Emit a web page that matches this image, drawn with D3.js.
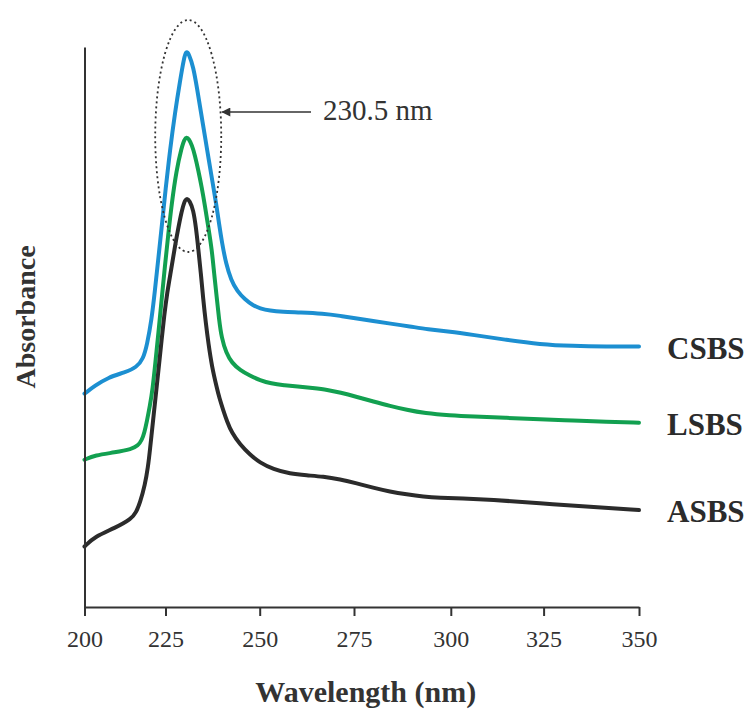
<!DOCTYPE html>
<html><head><meta charset="utf-8">
<script src="https://cdn.jsdelivr.net/npm/d3@7"></script>
<style>body{margin:0;background:#fff}svg{display:block}</style></head>
<body><svg id="chart" width="753" height="709"></svg>
<script>
// ---------- data ----------
const tickValues = [200, 225, 250, 275, 300, 325, 350];
const seriesNames = ["CSBS", "LSBS", "ASBS"];
const peakLabel = "230.5 nm";
const peakWavelength = 230.5;

const csbsWavelength = [200.0,203.2,207.3,212.5,216.1,218.1,219.3,220.7,221.7,222.8,224.0,225.0,226.2,227.5,228.9,229.9,230.5,231.2,232.4,233.4,234.4,235.5,236.5,237.6,238.5,239.2,240.0,241.1,242.4,244.0,246.1,248.1,250.1,252.7,256.0,260.7,266.8,271.3,275.8,279.9,284.3,289.5,294.0,299.8,305.9,315.0,324.0,332.7,341.4,350.0];
const csbsAbsorbance = [0.381,0.395,0.410,0.419,0.428,0.443,0.468,0.513,0.563,0.623,0.688,0.745,0.816,0.882,0.941,0.980,0.993,0.988,0.964,0.925,0.884,0.839,0.798,0.754,0.718,0.685,0.650,0.612,0.584,0.564,0.549,0.539,0.533,0.529,0.527,0.526,0.524,0.520,0.515,0.511,0.506,0.501,0.496,0.492,0.486,0.477,0.469,0.466,0.465,0.465];

const lsbsWavelength = [200.0,203.2,209.4,214.6,216.5,217.7,218.5,219.2,220.2,221.0,221.9,222.8,223.8,224.8,225.7,226.6,227.9,229.3,230.0,230.6,231.2,232.0,232.8,233.7,234.6,235.5,236.4,237.3,237.9,238.6,239.2,239.9,241.1,242.6,244.8,247.4,250.1,253.0,256.5,260.0,264.0,268.0,271.3,275.8,280.0,284.3,288.6,293.3,299.8,305.9,315.0,324.0,332.7,341.4,350.0];
const lsbsAbsorbance = [0.263,0.271,0.276,0.282,0.288,0.298,0.312,0.330,0.360,0.388,0.438,0.489,0.548,0.608,0.663,0.718,0.780,0.821,0.835,0.839,0.836,0.825,0.807,0.780,0.750,0.715,0.677,0.638,0.596,0.553,0.514,0.480,0.454,0.436,0.423,0.413,0.405,0.399,0.396,0.394,0.391,0.388,0.383,0.375,0.367,0.359,0.352,0.346,0.342,0.340,0.338,0.335,0.333,0.331,0.329];

const asbsWavelength = [200.0,203.2,209.4,214.6,215.9,217.1,218.7,219.6,220.2,221.2,221.7,223.0,223.8,224.6,225.4,226.6,227.5,228.4,229.3,230.0,230.6,231.4,232.4,233.1,233.7,234.4,235.0,235.7,236.4,237.3,238.6,239.3,240.3,241.3,242.6,244.8,247.4,250.0,253.6,258.0,262.5,266.8,271.3,275.7,279.9,284.3,288.6,292.9,297.2,303.0,310.6,324.0,337.2,350.0];
const asbsAbsorbance = [0.108,0.126,0.141,0.158,0.169,0.185,0.219,0.250,0.280,0.335,0.362,0.432,0.477,0.520,0.560,0.606,0.644,0.677,0.707,0.724,0.730,0.726,0.709,0.677,0.640,0.595,0.550,0.507,0.470,0.430,0.392,0.373,0.352,0.332,0.311,0.290,0.272,0.258,0.246,0.238,0.235,0.233,0.228,0.221,0.213,0.206,0.201,0.197,0.195,0.194,0.192,0.185,0.179,0.173];

// ---------- chart ----------
const svg = d3.select("#chart");
const serif = "'Liberation Serif','Times New Roman',serif";
const axisColor = "#333";

const x = d3.scaleLinear()
  .domain(tickValues)
  .range([84.5, 165.5, 259.7, 354, 450.8, 543.6, 639]);
const y = d3.scaleLinear().domain([0, 1]).range([607, 47]);

const series = [
  {name: seriesNames[0], wl: csbsWavelength, a: csbsAbsorbance, color: "#1c8fd1"},
  {name: seriesNames[1], wl: lsbsWavelength, a: lsbsAbsorbance, color: "#12a050"},
  {name: seriesNames[2], wl: asbsWavelength, a: asbsAbsorbance, color: "#2b2b2b"}
];

const line = d3.line()
  .x(d => x(d[0])).y(d => y(d[1]))
  .curve(d3.curveBasis);

svg.append("g").selectAll("path").data(series).join("path")
  .attr("d", s => line(s.wl.map((w, i) => [w, s.a[i]])))
  .attr("fill", "none")
  .attr("stroke", s => s.color)
  .attr("stroke-width", 4)
  .attr("stroke-linecap", "round")
  .attr("stroke-linejoin", "round");

// axes
const xAxis = svg.append("g").attr("transform", `translate(0,${y(0)})`)
  .call(d3.axisBottom(x).tickValues(tickValues).tickSize(9).tickSizeOuter(0).tickPadding(14));
xAxis.select(".domain").attr("stroke", axisColor).attr("stroke-width", 2);
xAxis.selectAll(".tick line").attr("stroke", axisColor).attr("stroke-width", 2);
xAxis.selectAll(".tick text").attr("fill", "#333").attr("font-family", serif).attr("font-size", 24);

const yAxis = svg.append("g").attr("transform", `translate(${x(200)},0)`)
  .call(d3.axisLeft(y).tickValues([]).tickSizeOuter(0));
yAxis.select(".domain").attr("stroke", axisColor).attr("stroke-width", 2);

// axis titles
svg.append("text")
  .attr("x", (x(200) + x(350)) / 2 + 4).attr("y", 702)
  .attr("text-anchor", "middle")
  .attr("font-family", serif).attr("font-weight", "bold").attr("font-size", 30)
  .attr("fill", "#333").text("Wavelength (nm)");

svg.append("text")
  .attr("transform", `translate(35,${(y(0) + y(1)) / 2 - 10}) rotate(-90)`)
  .attr("text-anchor", "middle")
  .attr("font-family", serif).attr("font-weight", "bold").attr("font-size", 28)
  .attr("fill", "#333").text("Absorbance");

// series labels at line ends
svg.append("g").selectAll("text").data(series).join("text")
  .attr("x", 667)
  .attr("y", s => y(s.a[s.a.length - 1]) + 12)
  .attr("font-family", serif).attr("font-weight", "bold").attr("font-size", 31)
  .attr("fill", "#2b2b2b").text(s => s.name);

// peak annotation
const cx = x(peakWavelength) + 2;
svg.append("ellipse")
  .attr("cx", cx).attr("cy", 136).attr("rx", 33).attr("ry", 116)
  .attr("fill", "none").attr("stroke", "#333").attr("stroke-width", 1.8)
  .attr("stroke-dasharray", "2,3");

svg.append("defs").append("marker")
  .attr("id", "arrow").attr("viewBox", "0 0 10 10")
  .attr("refX", 9).attr("refY", 5)
  .attr("markerWidth", 10).attr("markerHeight", 9)
  .attr("markerUnits", "userSpaceOnUse")
  .attr("orient", "auto")
  .append("path").attr("d", "M0,0 L10,5 L0,10 z").attr("fill", "#333");

svg.append("line")
  .attr("x1", 311).attr("y1", 112).attr("x2", cx + 34).attr("y2", 112)
  .attr("stroke", "#333").attr("stroke-width", 1.5)
  .attr("marker-end", "url(#arrow)");

svg.append("text")
  .attr("x", 323).attr("y", 120)
  .attr("font-family", serif).attr("font-size", 29)
  .attr("fill", "#333").text(peakLabel);
</script>
</body></html>
